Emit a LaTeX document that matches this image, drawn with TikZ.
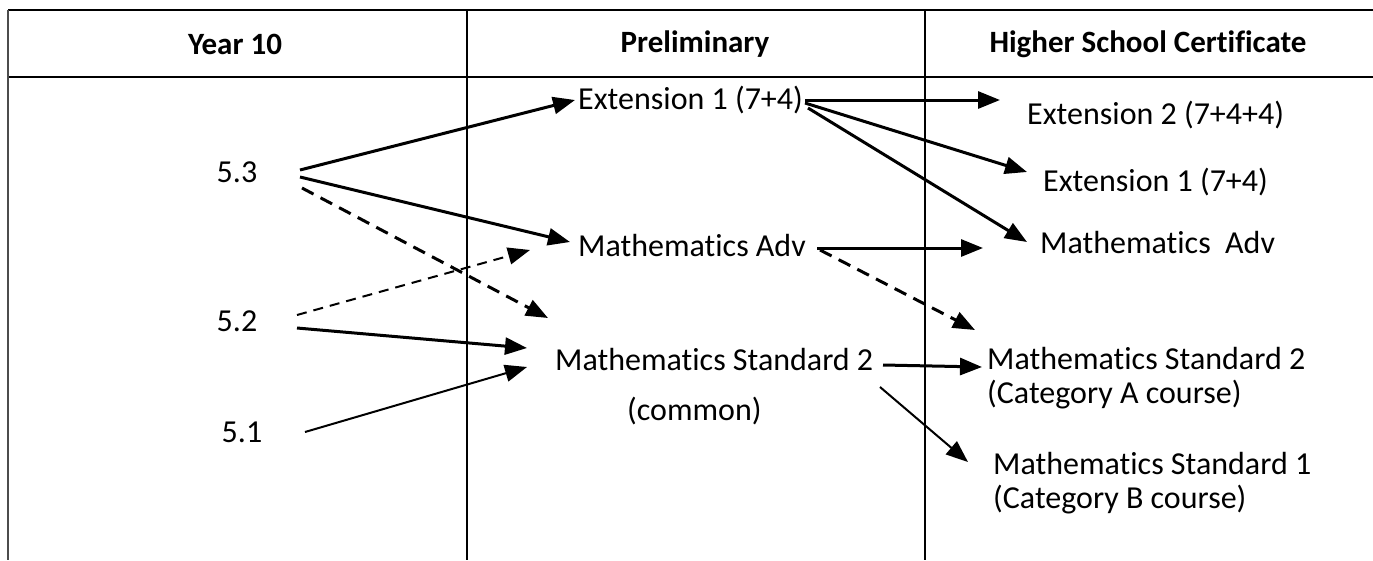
\documentclass[tikz,border=0pt]{standalone}
\usepackage{fontspec}
\setmainfont{Carlito}[Ligatures=NoCommon]
\usetikzlibrary{arrows.meta, positioning, calc}

\tikzset{
  course/.style={font=\fontsize{32}{34}\selectfont, inner sep=0pt, align=left},
  colhead/.style={font=\fontsize{31}{34}\selectfont\bfseries, inner sep=0pt},
  route/.style={line width=3pt, -{Triangle[length=22pt,width=17pt]}},
  thinroute/.style={line width=2pt, -{Triangle[length=22pt,width=17pt]}},
  optroute/.style={route, dash pattern=on 13pt off 8pt},
  grid/.style={line width=1.5pt}
}

\begin{document}
\begin{tikzpicture}[x=1pt, y=-1pt]
  \useasboundingbox (0,0) rectangle (1373,560);
  % table lines
  \draw[line width=2pt] (8,10) -- (1373,10);
  \draw[line width=2.5pt] (8,77) -- (1373,77);
  \draw[line width=2.5pt, black!70] (8,10) -- (8,560);
  \draw[grid] (467,10) -- (467,560);
  \draw[grid] (925,10) -- (925,560);
  % headings
  \node[colhead] (hdyr) at (235,44) {Year 10};
  \node[colhead] (hdpre) at (695,44) {Preliminary};
  \node[colhead] (hdhsc) at (1148,44) {Higher School Certificate};
  % year 10 stages
  \node[course] (s53) at (237,172) {5.3};
  \node[course] (s52) at (237,321) {5.2};
  \node[course] (s51) at (242,432) {5.1};
  % preliminary courses
  \node[course, anchor=west] (pext1) at (578,100) {Extension 1 (7+4)};
  \node[course, anchor=west] (padv) at (578,246) {Mathematics Adv};
  \node[course, anchor=north west] (pstd2) at (555,348)
    {Mathematics Standard 2\\[16pt]\hspace*{72pt}(common)};
  % hsc courses
  \node[course, anchor=west] (hext2) at (1027,115) {Extension 2 (7+4+4)};
  \node[course, anchor=west] (hext1) at (1043,182) {Extension 1 (7+4)};
  \node[course, anchor=west] (hadv) at (1040,243) {Mathematics\ \ Adv};
  \node[course, anchor=north west] (hstd2) at (987,347)
    {Mathematics Standard 2\\(Category A course)};
  \node[course, anchor=north west] (hstd1) at (993,452)
    {Mathematics Standard 1\\(Category B course)};
  % year 10 -> preliminary
  \draw[route] ([shift={(63,-2)}]s53.center) -- ([shift={(-3,0)}]pext1.west);
  \draw[route] ([shift={(63,5)}]s53.center) -- ([shift={(-8,-4)}]padv.west);
  \draw[optroute] ([shift={(65,16)}]s53.center) -- ([shift={(-7,-30)}]pstd2.north west);
  \draw[route, line width=2pt, dash pattern=on 10pt off 7pt] ([shift={(60,-6)}]s52.center) -- ([shift={(-48,4)}]padv.west);
  \draw[route] ([shift={(60,7)}]s52.center) -- ([shift={(-28,0)}]pstd2.north west);
  \draw[thinroute] ([shift={(63,0)}]s51.center) -- ([shift={(-28,19)}]pstd2.north west);
  % preliminary -> hsc
  \draw[route] ([shift={(227,0)}]pext1.west) -- ([shift={(-27,-15)}]hext2.west);
  \draw[route] ([shift={(227,3)}]pext1.west) -- ([shift={(-16,-10)}]hext1.west);
  \draw[route] ([shift={(230,8)}]pext1.west) -- ([shift={(-13,-1)}]hadv.west);
  \draw[route] ([shift={(239,2)}]padv.west) -- ([shift={(-57,5)}]hadv.west);
  \draw[optroute] ([shift={(242,4)}]padv.west) -- ([shift={(-12,-17)}]hstd2.north west);
  \draw[route] ([shift={(328,17)}]pstd2.north west) -- ([shift={(-5,20)}]hstd2.north west);
  \draw[thinroute] ([shift={(325,39)}]pstd2.north west) -- ([shift={(-25,10)}]hstd1.north west);
\end{tikzpicture}
\end{document}
